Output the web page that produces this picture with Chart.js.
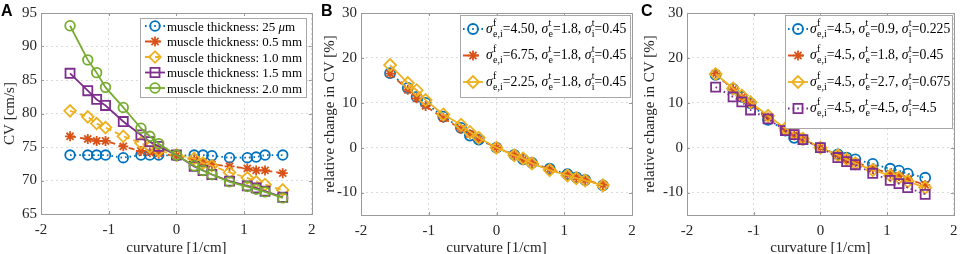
<!DOCTYPE html>
<html><head><meta charset="utf-8">
<script src="https://cdn.jsdelivr.net/npm/chart.js@4/dist/chart.umd.min.js"></script>
<style>
html,body{margin:0;padding:0;background:#fff;}
#wrap{position:relative;width:962px;height:254px;overflow:hidden;background:#fff;}
.pn{position:absolute;top:0;height:254px;}
</style></head>
<body>
<div id="wrap">
  <div class="pn" style="left:0;width:320px"><canvas id="cA" width="320" height="254"></canvas></div>
  <div class="pn" style="left:320px;width:320px"><canvas id="cB" width="320" height="254"></canvas></div>
  <div class="pn" style="left:640px;width:322px"><canvas id="cC" width="322" height="254"></canvas></div>
</div>
<script>
// ---------- data ----------
const curvature = [-1.571,-1.309,-1.178,-1.047,-0.785,-0.524,-0.393,-0.262,0,0.262,0.393,0.524,0.785,1.047,1.178,1.309,1.571];

// Panel A: CV [cm/s]
const thicknessLabels = ['25 μm','0.5 mm','1.0 mm','1.5 mm','2.0 mm'];
const cv25um = [73.8,73.8,73.8,73.8,73.4,73.8,73.8,73.8,73.7,73.8,73.8,73.7,73.4,73.4,73.5,73.8,73.8];
const cv05mm = [76.6,76.2,75.9,75.9,75.1,74.4,74.2,74.0,73.7,73.1,72.7,72.4,72.1,71.8,71.5,71.5,71.1];
const cv10mm = [80.4,79.5,78.5,77.9,76.6,75.6,75.0,74.5,73.8,73.3,72.6,72.2,71.2,70.4,69.8,69.4,68.6];
const cv15mm = [86.0,83.4,82.1,81.2,78.8,76.8,75.8,75.1,73.8,72.1,71.5,70.9,69.9,69.2,68.9,68.4,67.5];
const cv20mm = [93.1,88.0,86.1,83.9,80.9,77.8,76.6,75.5,73.8,72.2,71.5,70.9,69.8,69.1,68.7,68.3,67.4];

// Panel B: relative change in CV [%], varying sigma^f_{e,i}
const bSigmaFei = ['4.50','6.75','2.25'];
const bSigmaTe  = ['1.8','1.8','1.8'];
const bSigmaTi  = ['0.45','0.45','0.45'];
const bRel450 = [16.6,13.3,11.3,10.0,6.9,4.4,2.7,1.8,0,-1.6,-2.6,-3.4,-4.7,-5.9,-6.6,-7.2,-8.4];
const bRel675 = [16.5,12.9,11.0,9.3,6.6,4.2,3.0,1.9,0,-1.6,-2.6,-3.4,-4.8,-6.0,-6.6,-7.2,-8.3];
const bRel225 = [18.4,14.4,12.8,10.6,7.4,5.1,3.5,2.2,0,-1.7,-2.4,-3.5,-5.0,-6.2,-6.8,-7.3,-8.4];

// Panel C: relative change in CV [%], varying sigma^t
const cSigmaFei = ['4.5','4.5','4.5','4.5'];
const cSigmaTe  = ['0.9','1.8','2.7','4.5'];
const cSigmaTi  = ['0.225','0.45','0.675','4.5'];
const cRelT09 = [16.2,13.1,11.3,9.9,6.2,3.8,2.2,1.8,0,-1.5,-2.2,-2.6,-3.6,-4.7,-5.1,-5.8,-6.7];
const cRelT18 = [16.5,13.0,11.2,9.8,6.7,4.0,2.8,1.9,0,-1.6,-2.6,-3.3,-4.6,-5.8,-6.3,-7.0,-8.3];
const cRelT27 = [16.4,13.2,11.6,10.1,7.1,4.3,3.1,2.0,0,-1.7,-2.6,-3.5,-5.0,-6.2,-6.7,-7.5,-8.9];
const cRelT45 = [13.5,11.3,10.2,8.4,6.4,3.8,2.9,1.8,0,-2.2,-3.1,-3.8,-5.7,-7.3,-8.0,-8.9,-10.4];

// ticks
const xTicks = [-2,-1,0,1,2];
const yTicksA = [65,70,75,80,85,90,95];
const yTicksBC = [-10,0,10,20,30];

// ---------- styles ----------
const COL = {blue:'#0072BD', red:'#D95319', yellow:'#EDB120', purple:'#7E2F8E', green:'#77AC30'};
const DASH = {solid:[], dotted:[1.6,3], dashed:[6,4]};
const SERIF = '"Liberation Serif","Times New Roman",serif';
const TXT = '#262626';
const LW = 1.8;

function pts(ys){ return curvature.map((x,i)=>({x, y:ys[i]})); }
function ds(label, ys, color, dash, pstyle, r, idx, n){
  return {label, data: pts(ys), showLine:true, borderColor:color, borderWidth:LW, borderDash:dash,
    pointStyle:pstyle, pointRadius:r, pointHoverRadius:r, pointBorderColor:color, pointBorderWidth:LW,
    pointBackgroundColor:'rgba(0,0,0,0)', fill:false, tension:0, order:n-idx};
}

// rich text: segments {t, it, sigma:{sup,sub}}
function drawRich(ctx, x, base, segs, size){
  for(const s of segs){
    if(s.sigma){
      ctx.font = 'italic '+size+'px '+SERIF;
      ctx.fillText('σ', x, base);
      x += ctx.measureText('σ').width + 0.3;
      const small = Math.round(size*0.72);
      ctx.font = small+'px '+SERIF;
      ctx.fillText(s.sigma.sup, x, base-7);
      ctx.fillText(s.sigma.sub, x, base+4);
      x += Math.max(ctx.measureText(s.sigma.sup).width, ctx.measureText(s.sigma.sub).width) + 0.1;
    } else {
      ctx.font = (s.it?'italic ':'')+size+'px '+SERIF;
      ctx.fillText(s.t, x, base);
      x += ctx.measureText(s.t).width;
    }
  }
}

function drawMarker(ctx, style, x, y, r){
  Chart.helpers.drawPoint(ctx, {pointStyle:style, radius:r, rotation:0, borderWidth:LW}, x, y);
}

const framePlugin = {
  id:'frame',
  afterDraw(chart){
    const o = chart.options.plugins.frame; if(!o) return;
    const {ctx, chartArea:a} = chart;
    const xs = chart.scales.x, ys = chart.scales.y;
    ctx.save();
    ctx.strokeStyle = '#9a9a9a'; ctx.lineWidth = 1; ctx.setLineDash([]);
    ctx.strokeRect(Math.round(a.left)+0.5, Math.round(a.top)+0.5, Math.round(a.right-a.left), Math.round(a.bottom-a.top));
    ctx.beginPath();
    for(const v of xTicks){ const px = Math.round(xs.getPixelForValue(v))+0.5;
      ctx.moveTo(px,a.bottom); ctx.lineTo(px,a.bottom-3); ctx.moveTo(px,a.top); ctx.lineTo(px,a.top+3); }
    for(const t of ys.ticks){ const py = Math.round(ys.getPixelForValue(t.value))+0.5;
      ctx.moveTo(a.left,py); ctx.lineTo(a.left+3,py); ctx.moveTo(a.right,py); ctx.lineTo(a.right-3,py); }
    ctx.stroke();
    // panel letter
    ctx.fillStyle = '#000';
    ctx.font = 'bold 16px "Liberation Sans",Arial,sans-serif';
    ctx.textBaseline = 'alphabetic';
    ctx.fillText(o.letter, o.lx, 16);
    // legend
    const L = o.legend;
    ctx.fillStyle = '#fff';
    ctx.fillRect(L.x, L.y, L.w, L.h);
    ctx.strokeStyle = '#a8a8a8';
    ctx.strokeRect(L.x+0.5, L.y+0.5, L.w, L.h);
    chart.data.datasets.forEach((d,i)=>{
      const cy = L.row0 + i*L.step;
      ctx.save();
      ctx.strokeStyle = d.borderColor; ctx.lineWidth = LW; ctx.setLineDash(d.borderDash);
      ctx.beginPath(); ctx.moveTo(L.sx0, cy); ctx.lineTo(L.sx1, cy); ctx.stroke();
      ctx.setLineDash([]);
      ctx.fillStyle = 'rgba(0,0,0,0)';
      drawMarker(ctx, d.pointStyle, (L.sx0+L.sx1)/2, cy, d.pointRadius);
      ctx.restore();
      ctx.fillStyle = '#000';
      ctx.textBaseline = 'alphabetic';
      drawRich(ctx, L.tx, cy + L.base, L.segs[i], L.size);
    });
    ctx.restore();
  }
};

function axisCfg(kind, ticksArr, min, max, title, fit){
  const isX = kind==='x';
  return {
    type:'linear', position: isX?'bottom':'left', min, max,
    afterBuildTicks: s => { s.ticks = ticksArr.map(v=>({value:v})); },
    ticks:{ color:TXT, font:{family:SERIF, size:15, lineHeight: isX?2.1:1.2}, padding: isX?0:4, autoSkip:false, maxRotation:0,
      callback: v => String(v) },
    grid:{ color:'rgba(0,0,0,0.14)', drawTicks:false, lineWidth:1 },
    border:{ display:false, dash:[2,3] },
    title:{ display:true, text:title, color:TXT, font:{family:SERIF, size:15, lineHeight:isX?0.8:1}, padding: isX?{top:0,bottom:0}:{top:3,bottom:0} },
    afterFit: s => { if(isX) s.height = fit; else s.width = fit; }
  };
}

function makeChart(id, datasets, yTicks, ymin, ymax, ytitle, yw, pad, frame){
  return new Chart(document.getElementById(id), {
    type:'scatter',
    data:{datasets},
    options:{
      responsive:false, animation:false, devicePixelRatio:1,
      layout:{padding:{top:pad.top, right:pad.right, left:0, bottom:0}},
      plugins:{ legend:{display:false}, tooltip:{enabled:false}, frame },
      scales:{
        x: axisCfg('x', xTicks, -2, 2, 'curvature [1/cm]', 254-pad.top-pad.plotH),
        y: axisCfg('y', yTicks, ymin, ymax, ytitle, yw)
      }
    },
    plugins:[framePlugin]
  });
}

// ---- panel A ----
const dsA = [
  ds(thicknessLabels[0], cv25um, COL.blue,   DASH.dotted, 'circle',   4.8, 0, 5),
  ds(thicknessLabels[1], cv05mm, COL.red,    DASH.dashed, 'star',     5.0, 1, 5),
  ds(thicknessLabels[2], cv10mm, COL.yellow, DASH.dashed, 'rectRot',  5.8, 2, 5),
  ds(thicknessLabels[3], cv15mm, COL.purple, DASH.solid,  'rect',     6.4, 3, 5),
  ds(thicknessLabels[4], cv20mm, COL.green,  DASH.solid,  'circle',   4.8, 4, 5)
];
const segsA = thicknessLabels.map(l => {
  const parts = l.split('μ');
  return parts.length>1 ? [{t:'muscle thickness: '+parts[0]},{t:'μ',it:true},{t:parts[1]}] : [{t:'muscle thickness: '+l}];
});
makeChart('cA', dsA, yTicksA, 65, 95, 'CV [cm/s]', 41, {top:12, right:8, plotH:202},
  {letter:'A', lx:1, legend:{x:140,y:18,w:166,h:79,row0:26,step:15.5,sx0:145,sx1:165,tx:167,base:4.5,size:13,segs:segsA}});

// ---- panel B ----
function sigSegs(fei, te, ti){
  return [{sigma:{sup:'f',sub:'e,i'}},{t:'='+fei+', '},{sigma:{sup:'t',sub:'e'}},{t:'='+te+', '},{sigma:{sup:'t',sub:'i'}},{t:'='+ti}];
}
const dsB = [
  ds('4.50', bRel450, COL.blue,   DASH.dotted, 'circle',  5.0, 0, 3),
  ds('6.75', bRel675, COL.red,    DASH.dashed, 'star',    5.0, 1, 3),
  ds('2.25', bRel225, COL.yellow, DASH.solid,  'rectRot', 6.0, 2, 3)
];
const segsB = bSigmaFei.map((v,i)=>sigSegs(v, bSigmaTe[i], bSigmaTi[i]));
makeChart('cB', dsB, yTicksBC, -15, 30, 'relative change in CV [%]', 41, {top:11, right:8, plotH:204},
  {letter:'B', lx:1, legend:{x:140,y:15,w:170,h:82,row0:29,step:26.5,sx0:143,sx1:163,tx:166,base:3.5,size:13.7,segs:segsB}});

// ---- panel C ----
const dsC = [
  ds('0.9', cRelT09, COL.blue,   DASH.dotted, 'circle',  5.0, 0, 4),
  ds('1.8', cRelT18, COL.red,    DASH.dashed, 'star',    5.0, 1, 4),
  ds('2.7', cRelT27, COL.yellow, DASH.solid,  'rectRot', 6.0, 2, 4),
  ds('4.5', cRelT45, COL.purple, DASH.dotted, 'rect',    6.4, 3, 4)
];
const segsC = cSigmaFei.map((v,i)=>sigSegs(v, cSigmaTe[i], cSigmaTi[i]));
makeChart('cC', dsC, yTicksBC, -15, 30, 'relative change in CV [%]', 47, {top:11, right:5, plotH:204},
  {letter:'C', lx:1, legend:{x:145,y:15,w:167,h:113,row0:29,step:26.5,sx0:148,sx1:168,tx:170,base:3.5,size:13.7,segs:segsC}});
</script>
</body></html>
